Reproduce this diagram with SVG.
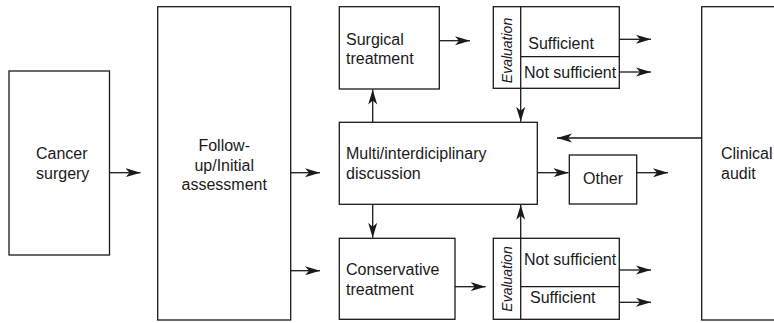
<svg xmlns="http://www.w3.org/2000/svg" width="774" height="323" viewBox="0 0 774 323">
<style>
.box{fill:#fff;stroke:#1a1a1a;stroke-width:1.3}
.ln{fill:none;stroke:#1a1a1a;stroke-width:1.3}
.c{stroke:#1a1a1a;stroke-width:1.3;fill:none;marker-end:url(#ah)}
text{font-family:"Liberation Sans",Arial,sans-serif;font-size:16px;fill:#1a1a1a}
.ev{font-size:14px;font-style:italic;text-anchor:middle}
.mid{text-anchor:middle}
</style>
<defs>
<marker id="ah" viewBox="0 0 15 10" refX="15" refY="5" markerWidth="15" markerHeight="10" orient="auto" markerUnits="userSpaceOnUse">
<path d="M0,0.5 L15,5 L0,9.5 L4,5 z" fill="#1a1a1a"/>
</marker>
</defs>
<rect width="774" height="323" fill="#fff"/>
<g id="cancer-surgery">
<rect class="box" x="9" y="71" width="100.5" height="184"/>
<text x="36" y="159.3">Cancer</text>
<text x="36" y="179.3">surgery</text>
</g>
<g id="follow-up">
<rect class="box" x="157.7" y="6.7" width="133" height="313.3"/>
<text class="mid" x="224.2" y="150.7">Follow-</text>
<text class="mid" x="224.2" y="170.5">up/Initial</text>
<text class="mid" x="224.2" y="190.3">assessment</text>
</g>
<g id="surgical-treatment">
<rect class="box" x="339.3" y="6.7" width="100" height="82.3"/>
<text x="346" y="44.5">Surgical</text>
<text x="346" y="64">treatment</text>
</g>
<g id="evaluation-top">
<rect class="box" x="493.3" y="6.7" width="126" height="81.6"/>
<line class="ln" x1="520.7" y1="6.7" x2="520.7" y2="88.3"/>
<line class="ln" x1="520.7" y1="56.7" x2="619.3" y2="56.7"/>
<text class="ev" transform="translate(511.5,50.5) rotate(-90)">Evaluation</text>
<text x="528.3" y="48.5">Sufficient</text>
<text x="524" y="78">Not sufficient</text>
</g>
<g id="multi-discussion">
<rect class="box" x="339.3" y="122.3" width="198" height="82"/>
<text x="346" y="159.3">Multi/interdiciplinary</text>
<text x="346" y="178.8">discussion</text>
</g>
<g id="other">
<rect class="box" x="569.3" y="155" width="67.4" height="49"/>
<text class="mid" x="603" y="184.3">Other</text>
</g>
<g id="conservative-treatment">
<rect class="box" x="339.3" y="238.3" width="115.7" height="81"/>
<text x="346" y="275">Conservative</text>
<text x="346" y="294.5">treatment</text>
</g>
<g id="evaluation-bottom">
<rect class="box" x="493.3" y="238.3" width="126" height="81"/>
<line class="ln" x1="520.7" y1="238.3" x2="520.7" y2="319.3"/>
<line class="ln" x1="520.7" y1="286.7" x2="619.3" y2="286.7"/>
<text class="ev" transform="translate(511.5,279) rotate(-90)">Evaluation</text>
<text x="524" y="264.5">Not sufficient</text>
<text x="530" y="303">Sufficient</text>
</g>
<g id="clinical-audit">
<rect class="box" x="701.7" y="6.7" width="80" height="313.3"/>
<text x="721" y="159.3">Clinical</text>
<text x="721" y="179.3">audit</text>
</g>
<g id="connectors">
<line class="c" x1="109.5" y1="172.7" x2="140.5" y2="172.7"/>
<line class="c" x1="290.7" y1="172.7" x2="320" y2="172.7"/>
<line class="c" x1="290.7" y1="270.7" x2="320" y2="270.7"/>
<line class="c" x1="372.7" y1="122.3" x2="372.7" y2="89.5"/>
<line class="c" x1="372.7" y1="204.3" x2="372.7" y2="237.8"/>
<line class="c" x1="439.3" y1="40.7" x2="470" y2="40.7"/>
<line class="c" x1="520.7" y1="88.3" x2="520.7" y2="121.8"/>
<line class="c" x1="520.7" y1="238.3" x2="520.7" y2="204.8"/>
<line class="c" x1="455" y1="286.7" x2="485.7" y2="286.7"/>
<line class="c" x1="537.3" y1="172.7" x2="568.5" y2="172.7"/>
<line class="c" x1="636.7" y1="172.7" x2="668" y2="172.7"/>
<line class="c" x1="701.7" y1="138" x2="557" y2="138"/>
<line class="c" x1="619.3" y1="39.3" x2="651" y2="39.3"/>
<line class="c" x1="619.3" y1="72" x2="651" y2="72"/>
<line class="c" x1="619.3" y1="270" x2="651" y2="270"/>
<line class="c" x1="619.3" y1="302.3" x2="651" y2="302.3"/>
</g>
</svg>
